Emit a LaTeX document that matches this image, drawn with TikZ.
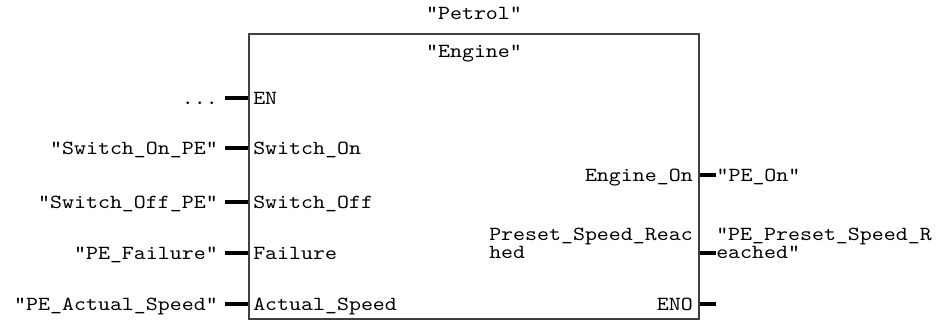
\documentclass[tikz,border=0pt]{standalone}
\usepackage{fontspec}
\setmonofont{lmmono10-regular.otf}[FakeStretch=1.14]
\usetikzlibrary{positioning, calc}

\begin{document}
\begin{tikzpicture}[
    x=0.75pt, y=-0.75pt,
    fb/.style={rectangle, draw=black!75, line width=1.2pt, minimum width=337.5pt, minimum height=213.75pt, inner sep=0pt},
    txt/.style={font=\ttfamily\fontsize{15}{13.5}\selectfont, inner sep=0pt},
    pinl/.style={txt, anchor=base west},
    pinr/.style={txt, anchor=base east},
    varl/.style={txt, anchor=base east, inner xsep=5.25pt},
    varr/.style={txt, anchor=base west, inner xsep=1pt},
    wire/.style={line width=2.3pt}
]
\useasboundingbox (0,0) rectangle (941,325);

\node[fb] (FB) at (474,176.5) {};
\node[txt, anchor=base] (petrol) at (474,19) {"Petrol"};
\node[txt, anchor=base] (engine) at (474,57) {"Engine"};

% inputs (baseline 6px under the wire)
\node[pinl] (pEN) at (253,104) {EN};
\node[pinl] (pOn) at (253,154) {Switch\_On};
\node[pinl] (pOff) at (253,208) {Switch\_Off};
\node[pinl] (pFail) at (253,259) {Failure};
\node[pinl] (pSpd) at (253,310) {Actual\_Speed};

\node[varl] (vEN) at (225,104) {...};
\node[varl] (vOn) at (225,154) {"Switch\_On\_PE"};
\node[varl] (vOff) at (225,208) {"Switch\_Off\_PE"};
\node[varl] (vFail) at (225,259) {"PE\_Failure"};
\node[varl] (vSpd) at (225,310) {"PE\_Actual\_Speed"};

\coordinate (iEN) at (225,98);
\coordinate (iOn) at (225,148);
\coordinate (iOff) at (225,202);
\coordinate (iFail) at (225,253);
\coordinate (iSpd) at (225,304);

\draw[wire] (iEN) -- (iEN -| FB.west);
\draw[wire] (iOn) -- (iOn -| FB.west);
\draw[wire] (iOff) -- (iOff -| FB.west);
\draw[wire] (iFail) -- (iFail -| FB.west);
\draw[wire] (iSpd) -- (iSpd -| FB.west);

% outputs
\node[pinr] (pEng) at (693,181) {Engine\_On};
\node[txt, align=left, anchor=north east] (pPre) at (693,228) {Preset\_Speed\_Reac\\hed};
\node[pinr] (pENO) at (693,310) {ENO};

\node[varr] (vEng) at (715,181) {"PE\_On"};
\node[txt, align=left, anchor=north west] (vPre) at (716,228) {"PE\_Preset\_Speed\_R\\eached"};

\coordinate (oEng) at (716,175);
\coordinate (oPre) at (716,253);
\coordinate (oENO) at (716,304);

\draw[wire] (oEng -| FB.east) -- (oEng);
\draw[wire] (oPre -| FB.east) -- (oPre);
\draw[wire] (oENO -| FB.east) -- (oENO);

\end{tikzpicture}
\end{document}
